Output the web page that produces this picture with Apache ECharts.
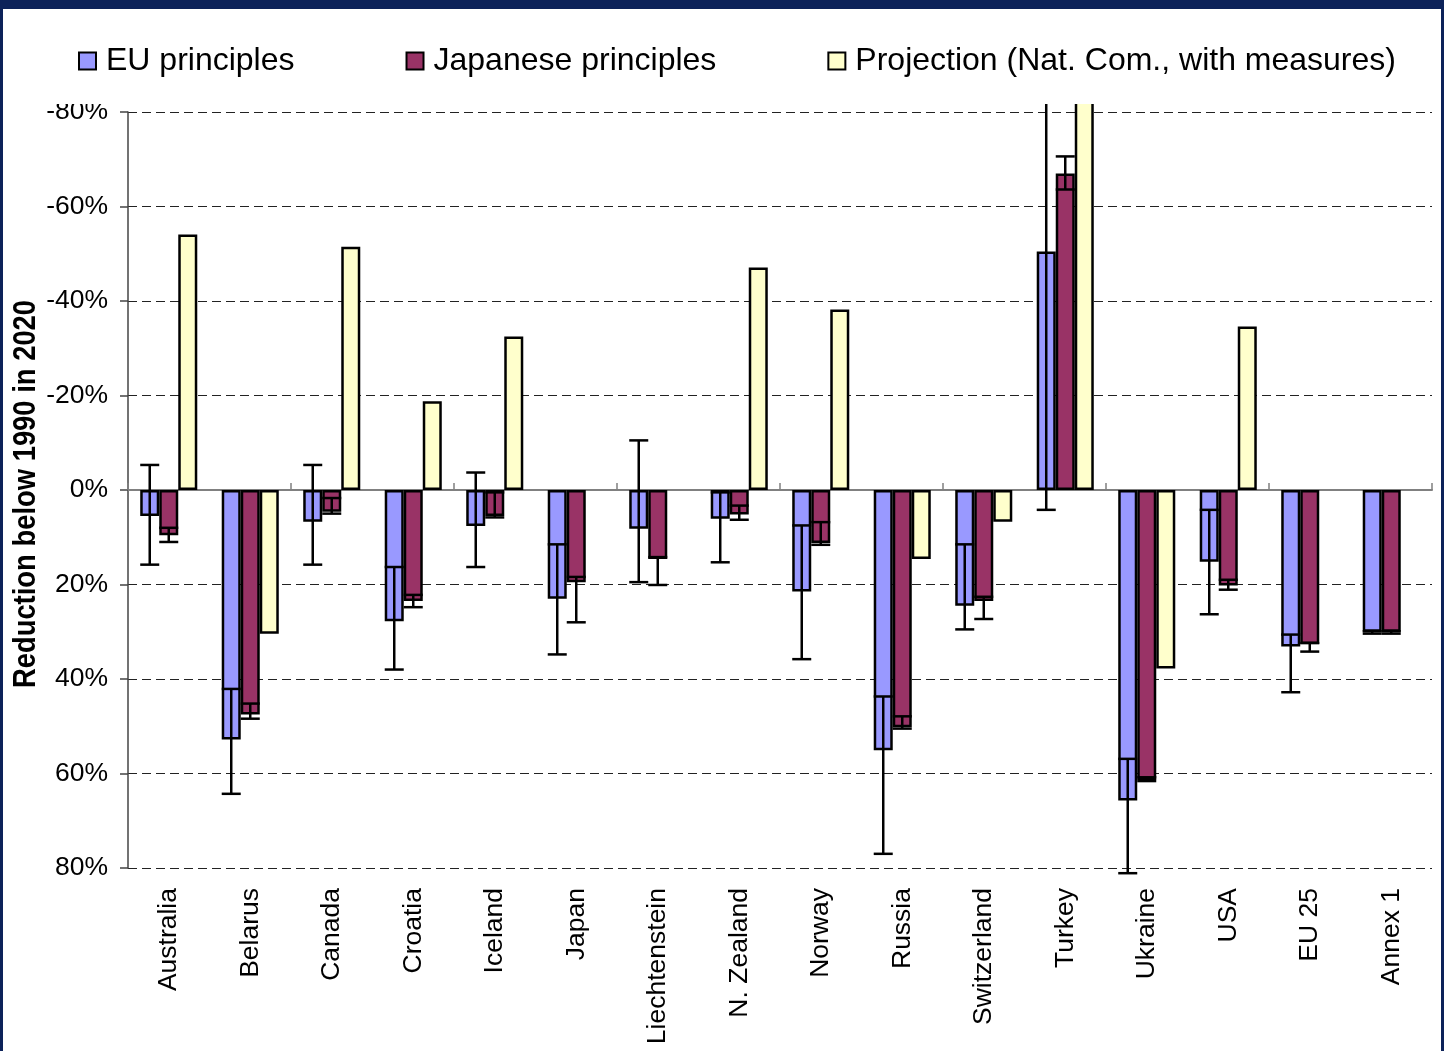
<!DOCTYPE html>
<html>
<head>
<meta charset="utf-8">
<title>Reduction below 1990 in 2020</title>
<script src="https://cdn.jsdelivr.net/npm/echarts@6/dist/echarts.min.js"></script>
<style>
  html, body { margin: 0; padding: 0; width: 1444px; height: 1051px; overflow: hidden; background: #0c2259; }
  #chart { position: absolute; left: 3px; top: 9px; width: 1438px; height: 1042px; background: #fff; }
</style>
</head>
<body>
<div id="chart"></div>
<script>
// Countries / groups on the category axis
const categories = ['Australia', 'Belarus', 'Canada', 'Croatia', 'Iceland', 'Japan', 'Liechtenstein',
  'N. Zealand', 'Norway', 'Russia', 'Switzerland', 'Turkey', 'Ukraine', 'USA', 'EU 25', 'Annex 1'];

// Reduction below 1990 in 2020 (%); positive = reduction, negative = growth
const euPrinciples = [5.5, 52.8, 6.7, 27.8, 7.6, 23.0, 8.2, 6.1, 21.5, 55.1, 24.5, -50.5, 65.7, 15.2, 33.1, 30.0];
const euLow  = [-5.3, 42.1, -5.3, 16.3, -3.7, 11.5, -10.5, 0.5, 7.5, 43.7, 11.5, -105.5, 56.9, 4.2, 30.6, 29.9];
const euHigh = [15.8, 64.3, 15.8, 38.0, 16.3, 34.8, 19.5, 15.3, 35.8, 77.0, 29.5, 4.2, 81.1, 26.3, 42.8, 30.4];

const jpPrinciples = [9.6, 47.5, 4.6, 23.5, 5.5, 19.5, 14.6, 5.2, 11.2, 50.2, 23.5, -67.0, 61.4, 20.2, 32.6, 30.0];
const jpLow  = [8.0, 45.2, 1.7, 22.2, 0.5, 18.4, 14.2, 3.3, 6.8, 47.9, 22.6, -70.6, 60.8, 19.0, 32.4, 29.9];
const jpHigh = [11.0, 48.4, 5.0, 24.8, 5.8, 28.0, 20.1, 6.3, 11.6, 50.5, 27.3, -63.6, 61.6, 21.1, 34.2, 30.4];

const projection = [-54.1, 30.4, -51.5, -18.8, -32.5, null, null, -47.1, -38.2, 14.6, 6.7, -100, 37.8, -34.6, null, null];

const yTicks = { min: -80, max: 80, step: 20 };

const seriesNames = ['EU principles', 'Japanese principles', 'Projection (Nat. Com., with measures)'];
const yTitle = 'Reduction below 1990 in 2020';
const colors = ['#9999ff', '#993366', '#ffffcc'];
const CAT_GAP = 0.3;
const OUTLINE = 2.5;

// Error-range records: [categoryIndex, barSlot, low, high]
const errData = [];
categories.forEach((c, i) => {
  errData.push([i, 0, euLow[i], euHigh[i]]);
  errData.push([i, 1, jpLow[i], jpHigh[i]]);
});

// Vertical range line with a cap at each end, centred on its bar slot
function renderRange(params, api) {
  const cat = api.value(0), slot = api.value(1);
  const lo = api.value(2), hi = api.value(3);
  const band = api.size([1, 0])[0];
  const barW = band * (1 - CAT_GAP) / 3;
  const cx = api.coord([cat, 0])[0] - 1.5 * barW + (slot + 0.5) * barW;
  const y1 = api.coord([cat, lo])[1];
  const y2 = api.coord([cat, hi])[1];
  const h = barW / 2;
  const st = { stroke: '#000', lineWidth: OUTLINE };
  return {
    type: 'group',
    children: [
      { type: 'line', shape: { x1: cx, y1: y1, x2: cx, y2: y2 }, style: st },
      { type: 'line', shape: { x1: cx - h, y1: y1, x2: cx + h, y2: y1 }, style: st },
      { type: 'line', shape: { x1: cx - h, y1: y2, x2: cx + h, y2: y2 }, style: st }
    ]
  };
}

const font = 'Liberation Sans, Arial, sans-serif';
const barBase = {
  type: 'bar',
  barGap: '0%',
  barCategoryGap: (CAT_GAP * 100) + '%',
  clip: false,
  z: 2
};

const chart = echarts.init(document.getElementById('chart'));
chart.setOption({
  animation: false,
  backgroundColor: '#fff',
  legend: {
    data: seriesNames,
    left: 0,
    top: 0,
    width: 1350,
    padding: [36, 5, 27, 75],
    backgroundColor: '#fff',
    itemGap: 111,
    itemWidth: 17,
    itemHeight: 17,
    icon: 'rect',
    itemStyle: { borderColor: '#000', borderWidth: 2 },
    textStyle: { fontFamily: font, fontSize: 32, color: '#000', padding: [0, 0, 0, 5] }
  },
  // Condensed bold value-axis title
  graphic: [{
    type: 'text',
    x: 23,
    y: 485,
    rotation: Math.PI / 2,
    scaleX: 0.856,
    z: 10,
    style: {
      text: yTitle,
      fontFamily: font,
      fontWeight: 'bold',
      fontSize: 32,
      fill: '#000',
      align: 'center',
      verticalAlign: 'middle',
      textAlign: 'center',
      textVerticalAlign: 'middle'
    }
  }],
  grid: { left: 125, right: 9, top: 103, bottom: 183, outerBoundsMode: 'none', containLabel: false },
  xAxis: [
    {
      type: 'category',
      data: categories,
      position: 'bottom',
      axisLine: { show: false, onZero: false },
      axisTick: { show: false },
      axisLabel: { interval: 0, rotate: 90, margin: 20, fontFamily: font, fontSize: 26.5, color: '#000' },
      splitLine: { show: false }
    },
    {
      type: 'category',
      data: categories,
      position: 'top',
      axisLine: { show: true, onZero: true, lineStyle: { color: '#808080', width: 2 } },
      axisTick: { show: true, inside: false, length: 7, lineStyle: { color: '#808080', width: 1.5 } },
      axisLabel: { show: false },
      splitLine: { show: false }
    }
  ],
  yAxis: {
    type: 'value',
    inverse: true,
    min: yTicks.min,
    max: yTicks.max,
    interval: yTicks.step,
    axisLine: { show: true, onZero: false, lineStyle: { color: '#444', width: 1.5 } },
    axisTick: { show: true, length: 8, lineStyle: { color: '#444', width: 1.5 } },
    axisLabel: { margin: 20, fontFamily: font, fontSize: 26.5, color: '#000', formatter: v => v + '%' },
    splitLine: { show: true, lineStyle: { color: '#222', width: 1.2, type: [9, 5] } }
  },
  series: [
    Object.assign({}, barBase, {
      name: seriesNames[0], data: euPrinciples,
      itemStyle: { color: colors[0], borderColor: '#000', borderWidth: OUTLINE }
    }),
    Object.assign({}, barBase, {
      name: seriesNames[1], data: jpPrinciples,
      itemStyle: { color: colors[1], borderColor: '#000', borderWidth: OUTLINE }
    }),
    Object.assign({}, barBase, {
      name: seriesNames[2], data: projection,
      itemStyle: { color: colors[2], borderColor: '#000', borderWidth: OUTLINE }
    }),
    {
      type: 'custom',
      name: 'range',
      renderItem: renderRange,
      data: errData,
      encode: { x: 0, y: [2, 3] },
      clip: false,
      z: 3,
      silent: true
    }
  ]
});
</script>
</body>
</html>
